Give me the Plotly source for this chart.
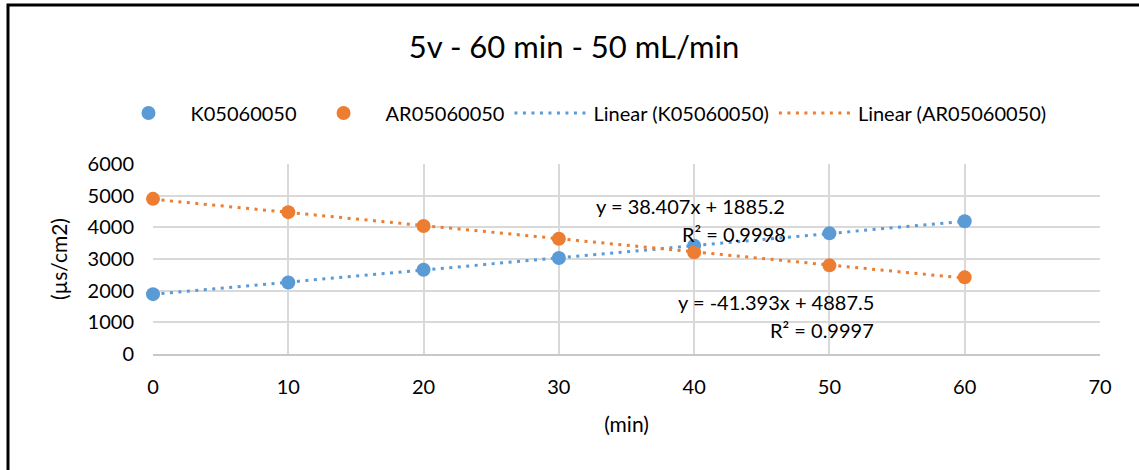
import numpy as np
import plotly.graph_objects as go

minutes = [0, 10, 20, 30, 40, 50, 60]
k_values = [1890, 2260, 2660, 3030, 3420, 3810, 4190]
ar_values = [4900, 4480, 4040, 3640, 3210, 2800, 2420]
k_name = "K05060050"
ar_name = "AR05060050"
k_eq = ["y = 38.407x + 1885.2", "R² = 0.9998"]
ar_eq = ["y = -41.393x + 4887.5", "R² = 0.9997"]
title_text = "5v - 60 min - 50 mL/min"
x_title = "(min)"
y_title = "(µs/cm2)"

blue = "#5B9BD5"
orange = "#ED7D31"
FONT = "Lato"

x = np.array(minutes, dtype=float)
kfit = np.polyfit(x, k_values, 1)
afit = np.polyfit(x, ar_values, 1)
xl = np.array([min(minutes), max(minutes)], dtype=float)

dotted = "3px,5.5px"

fig = go.Figure()
fig.add_trace(go.Scatter(x=minutes, y=k_values, mode="markers", name=k_name,
                         marker=dict(color=blue, size=14), cliponaxis=False))
fig.add_trace(go.Scatter(x=minutes, y=ar_values, mode="markers", name=ar_name,
                         marker=dict(color=orange, size=14), cliponaxis=False))
fig.add_trace(go.Scatter(x=xl, y=np.polyval(kfit, xl), mode="lines",
                         name="Linear (" + k_name + ")",
                         line=dict(color=blue, width=3, dash=dotted)))
fig.add_trace(go.Scatter(x=xl, y=np.polyval(afit, xl), mode="lines",
                         name="Linear (" + ar_name + ")",
                         line=dict(color=orange, width=3, dash=dotted)))

W, H = 1139, 470
ml, mr, mt, mb = 153, 39, 164, 116
pw, ph = W - ml - mr, H - mt - mb

def px(xp):
    return (xp - ml) / pw

def py(yp):
    return (H - mb - yp) / ph

fig.update_layout(
    width=W, height=H,
    margin=dict(l=ml, r=mr, t=mt, b=mb),
    paper_bgcolor="white", plot_bgcolor="white",
    font=dict(family=FONT, size=20, color="#000000"),
    title=dict(text=title_text, x=px(574), xanchor="center", xref="paper",
               y=1 - 47 / H, yanchor="middle",
               font=dict(family=FONT, size=31, color="#000000")),
    legend=dict(orientation="h", xref="container", yref="container",
                x=579 / W, xanchor="center", y=1 - 113 / H, yanchor="middle",
                font=dict(family=FONT, size=20), bgcolor="rgba(0,0,0,0)",
                itemwidth=74, tracegroupgap=0),
    xaxis=dict(range=[0, 70], dtick=10, showgrid=True, gridcolor="#D9D9D9", gridwidth=1.5,
               zeroline=False, showline=True, linecolor="#C8C8C8", linewidth=1.5,
               ticks="", ticklabelstandoff=14, tickfont=dict(size=20),
               title=dict(text=x_title, standoff=21, font=dict(family=FONT, size=21))),
    yaxis=dict(range=[0, 6000], dtick=1000, showgrid=True, gridcolor="#D9D9D9", gridwidth=1.5,
               zeroline=False, showline=False, ticks="", ticklabelstandoff=18,
               tickfont=dict(size=20),
               title=dict(text=y_title, standoff=14, font=dict(family=FONT, size=21))),
    showlegend=True,
)

ann_font = dict(family=FONT, size=20, color="#000000")
fig.add_annotation(x=px(787), y=py(192), xref="paper", yref="paper", text=k_eq[0],
                   showarrow=False, font=ann_font)
fig.add_annotation(x=px(788), y=py(220), xref="paper", yref="paper", text=k_eq[1],
                   showarrow=False, font=ann_font)
fig.add_annotation(x=px(876), y=py(316), xref="paper", yref="paper", text=ar_eq[0],
                   showarrow=False, font=ann_font)
fig.add_annotation(x=px(876), y=py(344), xref="paper", yref="paper", text=ar_eq[1],
                   showarrow=False, font=ann_font)

fig.add_shape(type="rect", xref="paper", yref="paper",
              x0=px(8), x1=px(W + 10), y0=py(H + 10), y1=py(5),
              line=dict(color="black", width=3), fillcolor="rgba(0,0,0,0)", layer="below")

fig.write_html("out.html", config={"displayModeBar": False},
               post_script="document.body.style.margin='0px';document.body.style.overflow='hidden';")
